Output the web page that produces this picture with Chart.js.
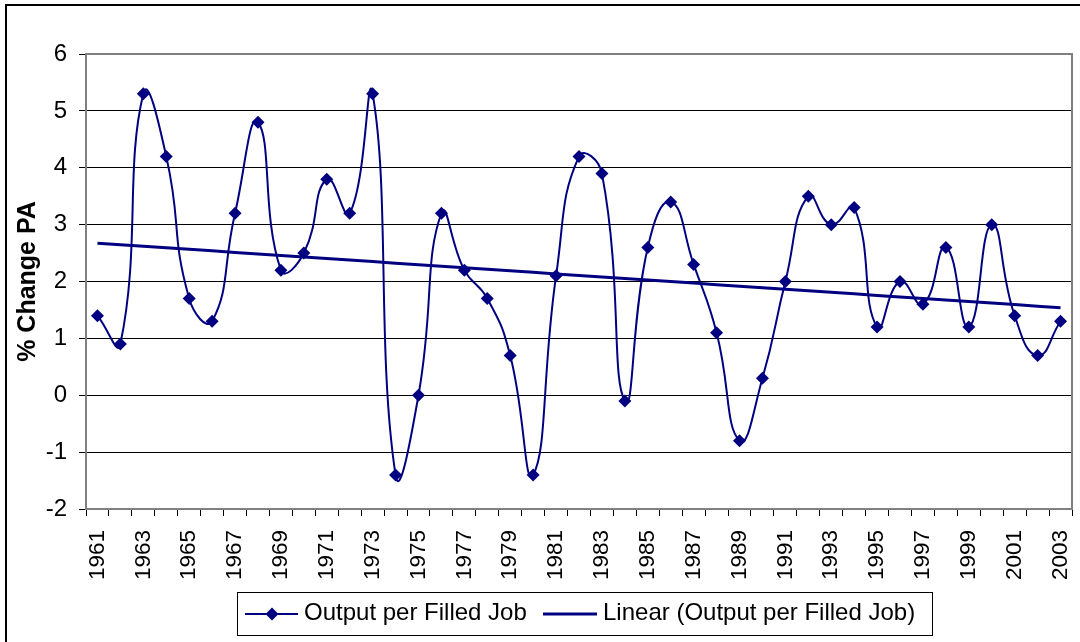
<!DOCTYPE html>
<html>
<head>
<meta charset="utf-8">
<script src="https://cdn.jsdelivr.net/npm/chart.js@4"></script>
<style>
  html, body { margin: 0; padding: 0; background: #fff; }
  #wrap { width: 1080px; height: 642px; position: relative; }
</style>
</head>
<body>
<div id="wrap"><canvas id="chart" width="1080" height="642"></canvas></div>
<script>
// dữ liệu
const years = ['1961','1962','1963','1964','1965','1966','1967','1968','1969','1970',
  '1971','1972','1973','1974','1975','1976','1977','1978','1979','1980',
  '1981','1982','1983','1984','1985','1986','1987','1988','1989','1990',
  '1991','1992','1993','1994','1995','1996','1997','1998','1999','2000',
  '2001','2002','2003'];
const outputPerJob = [1.4, 0.9, 5.3, 4.2, 1.7, 1.3, 3.2, 4.8, 2.2, 2.5,
  3.8, 3.2, 5.3, -1.4, 0.0, 3.2, 2.2, 1.7, 0.7, -1.4,
  2.1, 4.2, 3.9, -0.1, 2.6, 3.4, 2.3, 1.1, -0.8, 0.3,
  2.0, 3.5, 3.0, 3.3, 1.2, 2.0, 1.6, 2.6, 1.2, 3.0,
  1.4, 0.7, 1.3];
const yTicks = [-2, -1, 0, 1, 2, 3, 4, 5, 6];
const legendLabels = ['Output per Filled Job', 'Linear (Output per Filled Job)'];

// đường xu hướng tuyến tính (bình phương tối thiểu)
const n = outputPerJob.length;
const mx = (n - 1) / 2;
const my = outputPerJob.reduce((a, b) => a + b, 0) / n;
let sxy = 0, sxx = 0;
outputPerJob.forEach((v, i) => { sxy += (i - mx) * (v - my); sxx += (i - mx) * (i - mx); });
const slope = sxy / sxx;
const trend = outputPerJob.map((v, i) => my + slope * (i - mx));

const NAVY = '#000080';
const FONT = '"Liberation Sans", Arial, sans-serif';

// viền ngoài, khung vùng vẽ và chú thích
const frame = {
  id: 'frame',
  afterDraw(chart) {
    const c = chart.ctx, a = chart.chartArea;
    c.save();
    c.strokeStyle = '#808080';
    c.lineWidth = 2;
    c.strokeRect(a.left, a.top, a.right - a.left, a.bottom - a.top);
    c.strokeStyle = '#000';
    c.lineWidth = 2;
    c.strokeRect(6, 5, 1090, 660);

    // chú thích
    const bx = 237, by = 592, bw = 695, bh = 43;
    c.fillStyle = '#fff';
    c.fillRect(bx, by, bw, bh);
    c.strokeStyle = '#000';
    c.lineWidth = 1;
    c.strokeRect(bx + 0.5, by + 0.5, bw, bh);
    const cy = 614;
    c.strokeStyle = NAVY;
    c.lineWidth = 2;
    c.beginPath(); c.moveTo(245, cy); c.lineTo(298, cy); c.stroke();
    c.fillStyle = NAVY;
    c.beginPath();
    c.moveTo(272, cy - 6.5); c.lineTo(278.5, cy); c.lineTo(272, cy + 6.5); c.lineTo(265.5, cy);
    c.closePath(); c.fill();
    c.lineWidth = 3;
    c.beginPath(); c.moveTo(543, cy); c.lineTo(597, cy); c.stroke();
    c.fillStyle = '#000';
    c.font = '24px ' + FONT;
    c.textBaseline = 'middle';
    c.fillText(legendLabels[0], 304, cy - 1);
    c.fillText(legendLabels[1], 603, cy - 1);
    c.restore();
  }
};

const ctx = document.getElementById('chart').getContext('2d');
new Chart(ctx, {
  type: 'line',
  data: {
    labels: years,
    datasets: [{
      label: legendLabels[0],
      data: outputPerJob,
      borderColor: NAVY,
      backgroundColor: NAVY,
      borderWidth: 2,
      tension: 0.5,
      pointStyle: 'rectRot',
      pointRadius: 6.5,
      pointBorderWidth: 0,
      fill: false
    }, {
      label: legendLabels[1],
      data: trend,
      borderColor: NAVY,
      borderWidth: 3,
      pointRadius: 0,
      tension: 0,
      fill: false
    }]
  },
  options: {
    responsive: false,
    animation: false,
    layout: { padding: { left: 13, top: 54, right: 8, bottom: 0 } },
    plugins: { legend: { display: false }, tooltip: { enabled: false } },
    scales: {
      x: {
        offset: true,
        afterFit(s) { s.height = 133; s.paddingLeft = 0; s.paddingRight = 0; },
        grid: { offset: true, drawOnChartArea: false, color: '#000', tickLength: 7, tickColor: '#000', lineWidth: 1 },
        border: { display: false },
        ticks: {
          autoSkip: false, maxRotation: 90, minRotation: 90,
          color: '#000', font: { family: FONT, size: 22.5 }, padding: 14,
          callback: (v, i) => (i % 2 === 0 ? years[i] : '')
        }
      },
      y: {
        min: -2, max: 6,
        afterFit(s) { s.width = 73; s.paddingTop = 0; s.paddingBottom = 0; },
        afterBuildTicks(s) { s.ticks = yTicks.map(v => ({ value: v })); },
        grid: { color: '#000', lineWidth: 1, tickLength: 7, tickColor: '#000' },
        border: { display: false },
        ticks: { color: '#000', font: { family: FONT, size: 24 }, padding: 12 },
        title: { display: true, text: '% Change PA', color: '#000', font: { family: FONT, size: 25, weight: 'bold' }, padding: 0 }
      }
    }
  },
  plugins: [frame]
});
</script>
</body>
</html>
